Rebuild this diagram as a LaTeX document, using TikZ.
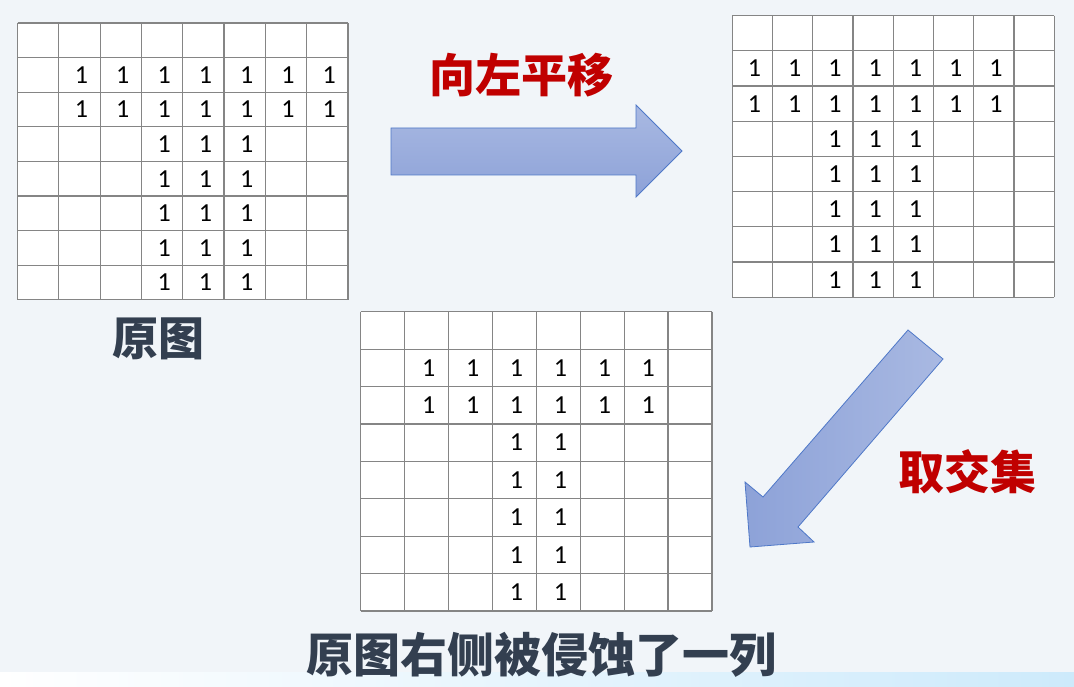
\documentclass[tikz,border=0pt]{standalone}
\usepackage{fontspec}
\newfontfamily\cjk{Noto Sans CJK SC}
\newfontfamily\digitfont{Carlito}
\definecolor{bgpaper}{HTML}{F1F5F9}
\definecolor{bandblue}{HTML}{CDEAFB}
\definecolor{gridgray}{HTML}{858585}
\definecolor{labelred}{HTML}{C00000}
\definecolor{labeldark}{HTML}{333F50}
\definecolor{arrowtop}{HTML}{A9B9E2}
\definecolor{arrowbot}{HTML}{8DA2D8}
\definecolor{arrowedge}{HTML}{4F78C8}
\begin{document}
\begin{tikzpicture}[x=1pt,y=-1pt,
    gridline/.style={draw=gridgray, line width=1.2pt},
    one/.style={font=\digitfont\fontsize{26}{26}\selectfont, inner sep=0pt},
    blockarrow/.style={draw=arrowedge, line width=0.8pt},
    redlabel/.style={font=\cjk\bfseries\fontsize{46}{50}\selectfont, text=labelred},
    darklabel/.style={font=\cjk\bfseries\fontsize{46}{50}\selectfont, text=labeldark}]
    \useasboundingbox (0,0) rectangle (1074,687);
    % Paper and bottom band
    \fill[bgpaper] (0,0) rectangle (1074,687);
    \shade[left color=white, right color=bandblue] (0,672) rectangle (1074,687);
    
    % Original image
    \begin{scope}[shift={(17.5,23)}, x=41.3pt, y=-34.6pt]
        \fill[white] (0,0) rectangle (8,8);
        \foreach \k in {0,...,8} {
            \draw[gridline] (\k,0) -- (\k,8);
            \draw[gridline] (0,\k) -- (8,\k);
        }
        \foreach \row in {1,2}
            \foreach \col in {1,...,7}
                \node[one] (A-\row-\col) at (\col+0.55,\row+0.5) {1};
        \foreach \row in {3,...,7}
            \foreach \col in {3,4,5}
                \node[one] (A-\row-\col) at (\col+0.55,\row+0.5) {1};
    \end{scope}
    
    % Shifted to the left
    \begin{scope}[shift={(732.3,15.7)}, x=40.25pt, y=-35.2pt]
        \fill[white] (0,0) rectangle (8,8);
        \foreach \k in {0,...,8} {
            \draw[gridline] (\k,0) -- (\k,8);
            \draw[gridline] (0,\k) -- (8,\k);
        }
        \foreach \row in {1,2}
            \foreach \col in {0,...,6}
                \node[one] (B-\row-\col) at (\col+0.55,\row+0.5) {1};
        \foreach \row in {3,...,7}
            \foreach \col in {2,3,4}
                \node[one] (B-\row-\col) at (\col+0.55,\row+0.5) {1};
    \end{scope}
    
    % Intersection
    \begin{scope}[shift={(360.7,311.7)}, x=43.9pt, y=-37.4pt]
        \fill[white] (0,0) rectangle (8,8);
        \foreach \k in {0,...,8} {
            \draw[gridline] (\k,0) -- (\k,8);
            \draw[gridline] (0,\k) -- (8,\k);
        }
        \foreach \row in {1,2}
            \foreach \col in {1,...,6}
                \node[one] (C-\row-\col) at (\col+0.55,\row+0.5) {1};
        \foreach \row in {3,...,7}
            \foreach \col in {3,4}
                \node[one] (C-\row-\col) at (\col+0.55,\row+0.5) {1};
    \end{scope}
    
    % Block arrows
    \path[blockarrow, top color=arrowtop, bottom color=arrowbot]
        (391,128) -- (636,128) -- (636,105) -- (682,151) -- (636,197)
        -- (636,175) -- (391,175) -- cycle;
    \path[blockarrow, left color=arrowbot, right color=arrowtop]
        (908,330) -- (943,359) -- (798,527) -- (814,542) -- (750,547)
        -- (745,482) -- (763,497) -- cycle;
    
    % Labels
    \node[darklabel] (orig) at (158,339) {原图};
    \node[redlabel] (shiftleft) at (521,75) {向左平移};
    \node[redlabel] (inter) at (967,472) {取交集};
    \node[darklabel, font=\cjk\bfseries\fontsize{47}{50}\selectfont] (result) at (541,655) {原图右侧被侵蚀了一列};
\end{tikzpicture}
\end{document}
